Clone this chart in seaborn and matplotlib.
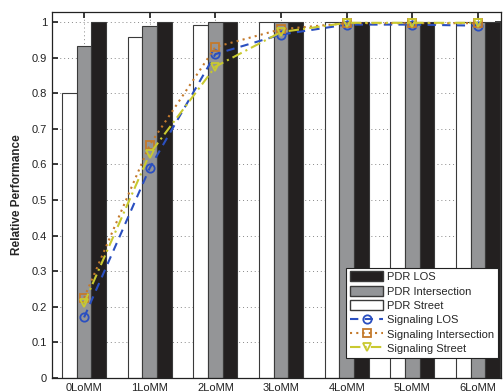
import numpy as np
import pandas as pd
import matplotlib
matplotlib.use("Agg")
import matplotlib.pyplot as plt
import seaborn as sns
from matplotlib.patches import Patch
from matplotlib.lines import Line2D

categories = ["0LoMM", "1LoMM", "2LoMM", "3LoMM", "4LoMM", "5LoMM", "6LoMM"]
pdr_street = [0.80, 0.957, 0.992, 1.0, 1.0, 1.0, 1.0]
pdr_intersection = [0.932, 0.988, 1.0, 1.0, 1.0, 1.0, 1.0]
pdr_los = [1.0, 1.0, 1.0, 1.0, 1.0, 1.0, 1.0]
sig_los = [0.17, 0.59, 0.91, 0.965, 0.993, 0.993, 0.99]
sig_intersection = [0.225, 0.655, 0.93, 0.98, 0.997, 0.997, 0.997]
sig_street = [0.21, 0.63, 0.875, 0.972, 0.998, 0.998, 0.998]

sns.set_theme(style="white")
plt.rcParams['font.family'] = ['Liberation Sans', 'DejaVu Sans']

bars = pd.DataFrame({
    "cat": categories * 3,
    "val": pdr_street + pdr_intersection + pdr_los,
    "series": ["PDR Street"] * 7 + ["PDR Intersection"] * 7 + ["PDR LOS"] * 7,
})
bar_colors = {"PDR Street": "#ffffff", "PDR Intersection": "#939598", "PDR LOS": "#231f20"}

fig = plt.figure(figsize=(5.04, 3.92), dpi=100)
ax = fig.add_axes([0.103, 0.036, 0.891, 0.933])

sns.barplot(data=bars, x="cat", y="val", hue="series",
            hue_order=["PDR Street", "PDR Intersection", "PDR LOS"],
            palette=bar_colors, width=0.67, edgecolor="#3a3a3a", linewidth=0.8,
            ax=ax, legend=False, zorder=2)

xs = np.arange(len(categories))
lines = [
    (sig_los, "#2a4fc0", (0, (4, 3)), "o", "Signaling LOS"),
    (sig_intersection, "#c47a2c", (0, (1, 2)), "s", "Signaling Intersection"),
    (sig_street, "#c9c930", (0, (5, 2, 1, 2)), "v", "Signaling Street"),
]
for vals, col, ls, mk, lab in lines:
    sns.lineplot(x=xs, y=vals, ax=ax, color=col, linewidth=1.5, zorder=3)
    ax.lines[-1].set_linestyle(ls)
    ax.lines[-1].set_marker(mk)
    ax.lines[-1].set_markersize(6)
    ax.lines[-1].set_markerfacecolor("none")
    ax.lines[-1].set_markeredgecolor(col)
    ax.lines[-1].set_markeredgewidth(1.3)

ax.set_xlim(-0.49, 6.35)
ax.set_ylim(0, 1.028)
ax.set_yticks(np.arange(0, 1.01, 0.1))
ax.set_yticklabels(["0", "0.1", "0.2", "0.3", "0.4", "0.5", "0.6", "0.7", "0.8", "0.9", "1"])
ax.set_xticks(xs)
ax.set_xticklabels(categories)
ax.set_xlabel("")
ax.set_ylabel("Relative Performance", fontsize=8.5, fontweight="bold", labelpad=6)
ax.tick_params(direction="in", length=4, labelsize=8, colors="#222222",
               top=True, right=True, bottom=True, left=True)
ax.grid(True, linestyle=(0, (1, 3)), color="#888888", linewidth=0.7, zorder=0)
ax.set_axisbelow(True)
for s in ax.spines.values():
    s.set_color("#222222")
    s.set_linewidth(0.9)

handles = [
    Patch(facecolor=bar_colors["PDR LOS"], edgecolor="#3a3a3a", label="PDR LOS"),
    Patch(facecolor=bar_colors["PDR Intersection"], edgecolor="#3a3a3a", label="PDR Intersection"),
    Patch(facecolor=bar_colors["PDR Street"], edgecolor="#3a3a3a", label="PDR Street"),
]
for vals, col, ls, mk, lab in lines:
    handles.append(Line2D([0], [0], color=col, linestyle=ls, linewidth=1.5, marker=mk,
                          markersize=6, markerfacecolor="none", markeredgecolor=col,
                          markeredgewidth=1.3, label=lab))
leg = ax.legend(handles=handles, loc="lower right", bbox_to_anchor=(0.993, 0.055),
                fontsize=8, frameon=True, fancybox=False, framealpha=1,
                edgecolor="#222222", borderpad=0.35, labelspacing=0.32,
                handlelength=3.0, handleheight=1.0, handletextpad=0.3, borderaxespad=0.0)
leg.get_frame().set_linewidth(0.8)

fig.savefig("out.png", dpi=100)
